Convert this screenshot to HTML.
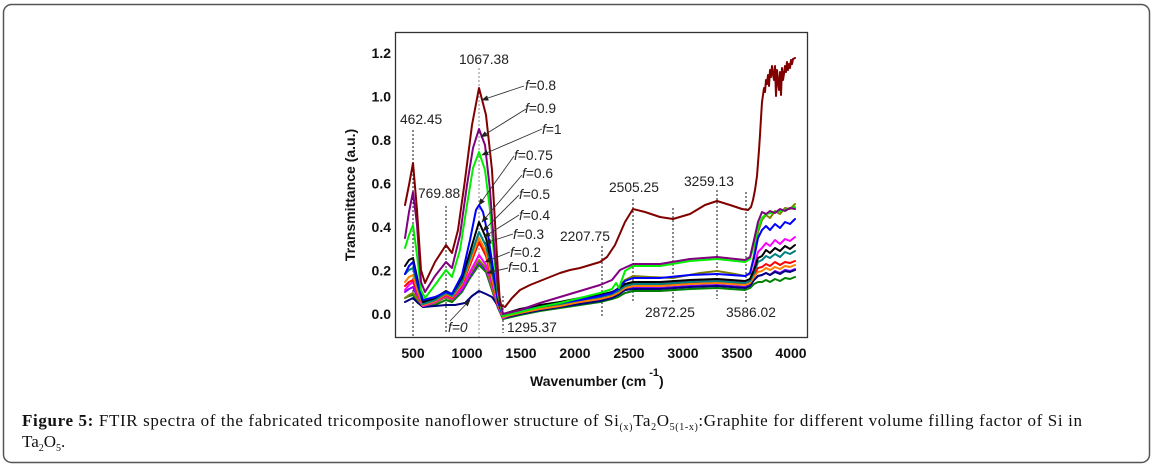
<!DOCTYPE html>
<html><head><meta charset="utf-8"><style>
html,body{margin:0;padding:0;background:#fff;}
svg{display:block;}
.ann{font-family:"Liberation Sans",Arial,sans-serif;font-size:13.8px;fill:#222;}
.tick{font-family:"Liberation Sans",Arial,sans-serif;font-size:14px;font-weight:bold;fill:#111;}
.cap{font-family:"Liberation Serif","Times New Roman",serif;font-size:17px;fill:#111;}
.c{fill:none;stroke-width:2;stroke-linejoin:round;stroke-linecap:round;}
.dl{stroke:#111;stroke-width:1;stroke-dasharray:2,2;fill:none;}
.ar{stroke:#333;stroke-width:0.9;fill:none;marker-end:url(#ah);}
</style></head><body>
<svg width="1154" height="469" viewBox="0 0 1154 469" xmlns="http://www.w3.org/2000/svg">
<defs>
<marker id="ah" viewBox="0 0 10 10" refX="9" refY="5" markerWidth="7" markerHeight="7" orient="auto" markerUnits="userSpaceOnUse">
<path d="M0,1 L10,5 L0,9 z" fill="#222"/>
</marker>
</defs>
<rect x="0" y="0" width="1154" height="469" fill="#fff"/>
<rect x="3.5" y="4.5" width="1146" height="458" rx="8" ry="8" fill="none" stroke="#555" stroke-width="1.5"/>

<rect x="395.5" y="32.5" width="412" height="305" fill="none" stroke="#333" stroke-width="1.3"/>

<line class="dl" x1="413" y1="130" x2="413" y2="337"/>
<line class="dl" x1="446" y1="206" x2="446" y2="334"/>
<line x1="479" y1="68" x2="479" y2="337" stroke="#888" stroke-width="1" stroke-dasharray="2,2"/>
<line class="dl" x1="503" y1="296" x2="503" y2="333"/>
<line class="dl" x1="602" y1="246" x2="602" y2="318"/>
<line class="dl" x1="633" y1="199" x2="633" y2="303"/>
<line class="dl" x1="673" y1="208" x2="673" y2="302"/>
<line class="dl" x1="717" y1="190" x2="717" y2="299"/>
<line class="dl" x1="746" y1="192" x2="746" y2="302"/>

<path class="c" stroke="#008000" d="M405,298 L409,296 L413,295 L418,302 L423,307 L435,305 L446,300 L452,302 L462,292 L470,278 L479,265 L486,272 L492,290 L498,308 L503,319 L520,315 L540,311 L560,308 L580,305 L600,302 L612,299 L618,297 L625,293 L633,291 L660,291 L690,289 L717,288 L745,290 L750,288 L754,284 L758,282 L762,282 L766,280 L770,282 L775,279 L780,281 L785,278 L790,279 L795,277"/>
<path class="c" stroke="#8000ff" d="M405,292 L409,289 L413,287 L418,298 L423,306 L435,303 L446,297 L452,300 L462,290 L470,276 L479,262 L486,270 L492,288 L498,307 L503,318 L520,314 L540,310 L560,307 L580,303 L600,300 L612,297 L618,294 L625,290 L633,288 L660,288 L690,286 L717,285 L745,287 L750,285 L754,280 L758,276 L762,275 L766,273 L770,275 L775,271 L780,273 L785,270 L790,271 L795,269"/>
<path class="c" stroke="#000080" d="M405,302 L409,300 L413,298 L418,303 L423,307 L435,306 L446,305 L455,305 L465,303 L472,296 L479,291 L486,294 L492,297 L498,306 L503,318 L520,314 L540,310 L560,307 L580,304 L600,301 L612,298 L618,295 L625,290 L633,289 L660,289 L690,287 L717,286 L745,288 L750,286 L754,280 L758,276 L762,275 L766,273 L770,275 L775,272 L780,274 L785,271 L790,272 L795,270"/>
<path class="c" stroke="#808000" d="M405,298 L409,295 L413,293 L418,300 L423,306 L435,303 L446,297 L452,300 L462,288 L470,274 L479,260 L486,268 L492,288 L498,306 L503,317 L520,312 L540,308 L560,304 L580,300 L600,297 L612,293 L618,288 L625,280 L633,276 L650,277 L673,278 L700,273 L717,271 L735,274 L745,276 L750,274 L754,255 L758,232 L762,220 L766,215 L770,218 L775,211 L780,214 L785,208 L790,209 L795,204"/>
<path class="c" stroke="#ff00ff" d="M405,290 L409,285 L413,282 L418,296 L423,306 L435,302 L446,296 L452,299 L462,288 L470,272 L479,255 L486,265 L492,284 L498,306 L503,318 L520,311 L540,307 L560,303 L580,300 L600,297 L612,294 L618,291 L625,285 L633,283 L660,283 L690,281 L717,280 L745,282 L750,280 L754,268 L758,252 L762,248 L766,243 L770,246 L775,240 L780,244 L785,239 L790,241 L795,237"/>
<path class="c" stroke="#ff0000" d="M405,286 L409,282 L413,280 L418,294 L423,305 L435,301 L446,295 L452,298 L462,285 L470,265 L479,242 L486,256 L492,280 L498,305 L503,317 L520,312 L540,308 L560,305 L580,301 L600,298 L612,295 L618,292 L625,287 L633,285 L660,285 L690,283 L717,282 L745,284 L750,282 L754,275 L758,268 L762,267 L766,264 L770,266 L775,262 L780,265 L785,262 L790,263 L795,261"/>
<path class="c" stroke="#ff8000" d="M405,282 L409,277 L413,275 L418,292 L423,305 L435,301 L446,294 L452,297 L462,284 L470,262 L479,238 L486,252 L492,278 L498,304 L503,317 L520,313 L540,309 L560,306 L580,302 L600,299 L612,296 L618,293 L625,288 L633,286 L660,286 L690,284 L717,283 L745,285 L750,283 L754,277 L758,272 L762,271 L766,268 L770,270 L775,267 L780,269 L785,266 L790,267 L795,265"/>
<path class="c" stroke="#008080" d="M405,274 L409,270 L413,268 L418,288 L423,304 L435,300 L446,293 L452,296 L462,282 L470,258 L479,232 L486,246 L492,272 L498,302 L503,316 L520,311 L540,307 L560,304 L580,300 L600,297 L612,294 L618,291 L625,286 L633,284 L660,284 L690,282 L717,281 L745,283 L750,281 L754,273 L758,262 L762,260 L766,256 L770,258 L775,254 L780,257 L785,252 L790,254 L795,251"/>
<path class="c" stroke="#000000" d="M405,266 L409,260 L413,258 L418,282 L423,302 L435,298 L446,291 L452,294 L462,278 L470,252 L479,222 L486,238 L492,265 L498,300 L503,314 L520,309 L540,305 L560,302 L580,298 L600,295 L612,292 L618,289 L625,284 L633,282 L660,282 L690,280 L717,279 L745,281 L750,279 L754,270 L758,258 L762,256 L766,250 L770,253 L775,248 L780,251 L785,246 L790,249 L795,245"/>
<path class="c" stroke="#0000ff" d="M405,274 L409,266 L413,262 L418,285 L423,300 L435,297 L446,292 L452,294 L462,275 L470,240 L476,210 L479,205 L483,212 L488,235 L493,268 L498,302 L503,316 L520,311 L540,307 L560,303 L580,300 L600,296 L612,293 L618,289 L625,281 L633,278 L660,278 L690,275 L717,274 L745,276 L750,273 L754,258 L758,238 L762,230 L766,226 L770,230 L775,224 L780,228 L785,222 L790,224 L795,219"/>
<path class="c" stroke="#00ee00" d="M405,248 L409,235 L413,225 L417,255 L421,290 L425,298 L435,285 L446,270 L452,277 L460,250 L467,205 L473,168 L479,152 L485,170 L490,210 L494,255 L498,295 L503,316 L520,312 L540,307 L560,303 L580,298 L600,293 L612,289 L616,283 L619,288 L625,271 L633,266 L660,266 L690,261 L717,259 L745,262 L750,259 L754,245 L758,228 L762,218 L766,214 L775,212 L785,210 L795,207"/>
<path class="c" stroke="#800080" d="M405,238 L409,212 L413,192 L417,225 L421,282 L425,292 L435,276 L446,262 L452,268 L460,235 L467,185 L473,148 L479,129 L485,145 L490,190 L494,245 L498,290 L503,314 L520,310 L540,303 L560,297 L580,291 L600,285 L612,280 L620,270 L633,264 L660,264 L690,259 L717,257 L745,260 L750,257 L754,240 L758,222 L762,212 L766,214 L770,211 L775,213 L780,209 L785,211 L790,208 L795,209"/>
<path class="c" stroke="#800000" d="M405,205 L409,185 L413,163 L417,210 L421,270 L425,283 L435,262 L446,245 L452,253 L458,230 L465,180 L472,125 L479,88 L486,115 L492,170 L496,240 L500,305 L505,307 L512,298 L520,290 L530,285 L540,281 L550,277 L560,273 L570,270 L580,268 L590,265 L600,262 L607,257 L615,245 L625,222 L633,209 L645,212 L660,217 L673,219 L690,214 L705,205 L717,201 L730,205 L742,209 L748,210 L751,207 L753,200 L755,190 L757,176 L759,150 L760,135 L761,118 L762,102 L763,95 L764,88 L765,92 L766,80 L767,84 L768,75 L769,86 L770,70 L771,77 L772,66 L773,74 L774,80 L775,66 L776,96 L777,70 L778,82 L779,90 L780,72 L781,95 L782,68 L783,80 L784,74 L785,66 L786,72 L787,62 L788,70 L789,64 L790,68 L791,60 L792,64 L793,59 L795,58"/>

<line class="ar" x1="524" y1="86" x2="482" y2="100"/>
<line class="ar" x1="526" y1="109" x2="481" y2="137"/>
<line class="ar" x1="542" y1="129" x2="482" y2="155"/>
<line class="ar" x1="514" y1="156" x2="479" y2="205"/>
<line class="ar" x1="522" y1="175" x2="482" y2="222"/>
<line class="ar" x1="519" y1="195" x2="483" y2="231"/>
<line class="ar" x1="519" y1="215" x2="484" y2="237"/>
<line class="ar" x1="513" y1="234" x2="485" y2="243"/>
<line class="ar" x1="510" y1="252" x2="485" y2="262"/>
<line class="ar" x1="508" y1="268" x2="487" y2="273"/>
<line class="ar" x1="450" y1="321" x2="470" y2="300"/>

<g class="tick" text-anchor="end">
<text x="391" y="319">0.0</text>
<text x="391" y="275.5">0.2</text>
<text x="391" y="232">0.4</text>
<text x="391" y="188.5">0.6</text>
<text x="391" y="145">0.8</text>
<text x="391" y="101.5">1.0</text>
<text x="391" y="58">1.2</text>
</g>
<g class="tick" text-anchor="middle">
<text x="413" y="358">500</text>
<text x="467" y="358">1000</text>
<text x="521" y="358">1500</text>
<text x="575" y="358">2000</text>
<text x="629" y="358">2500</text>
<text x="683" y="358">3000</text>
<text x="737" y="358">3500</text>
<text x="791" y="358">4000</text>
</g>
<text class="tick" text-anchor="middle" transform="translate(355,195) rotate(-90)">Transmittance (a.u.)</text>
<text class="tick" x="530" y="386">Wavenumber (cm<tspan font-size="11" dy="-10" dx="3">-1</tspan><tspan dy="10">)</tspan></text>

<g class="ann">
<text x="459" y="64">1067.38</text>
<text x="400" y="124">462.45</text>
<text x="418" y="198">769.88</text>
<text x="507" y="332">1295.37</text>
<text x="560" y="241">2207.75</text>
<text x="609" y="192">2505.25</text>
<text x="684" y="186">3259.13</text>
<text x="645" y="317">2872.25</text>
<text x="726" y="317">3586.02</text>
<text x="525" y="90"><tspan font-style="italic">f</tspan>=0.8</text>
<text x="525" y="113"><tspan font-style="italic">f</tspan>=0.9</text>
<text x="542" y="134"><tspan font-style="italic">f</tspan>=1</text>
<text x="514" y="160"><tspan font-style="italic">f</tspan>=0.75</text>
<text x="522" y="178"><tspan font-style="italic">f</tspan>=0.6</text>
<text x="519" y="199"><tspan font-style="italic">f</tspan>=0.5</text>
<text x="519" y="220"><tspan font-style="italic">f</tspan>=0.4</text>
<text x="513" y="239"><tspan font-style="italic">f</tspan>=0.3</text>
<text x="510" y="257"><tspan font-style="italic">f</tspan>=0.2</text>
<text x="508" y="272"><tspan font-style="italic">f</tspan>=0.1</text>
<text x="448" y="332" font-style="italic">f=0</text>
</g>

<text class="cap" x="22" y="426" textLength="1060" lengthAdjust="spacing"><tspan font-weight="bold">Figure 5:</tspan> FTIR spectra of the fabricated tricomposite nanoflower structure of Si<tspan font-size="10" dy="4">(x)</tspan><tspan dy="-4">Ta</tspan><tspan font-size="10" dy="4">2</tspan><tspan dy="-4">O</tspan><tspan font-size="10" dy="4">5(1-x)</tspan><tspan dy="-4">:Graphite for different volume filling factor of Si in</tspan></text>
<text class="cap" x="22" y="447">Ta<tspan font-size="10" dy="4">2</tspan><tspan dy="-4">O</tspan><tspan font-size="10" dy="4">5</tspan><tspan dy="-4">.</tspan></text>
</svg>
</body></html>
